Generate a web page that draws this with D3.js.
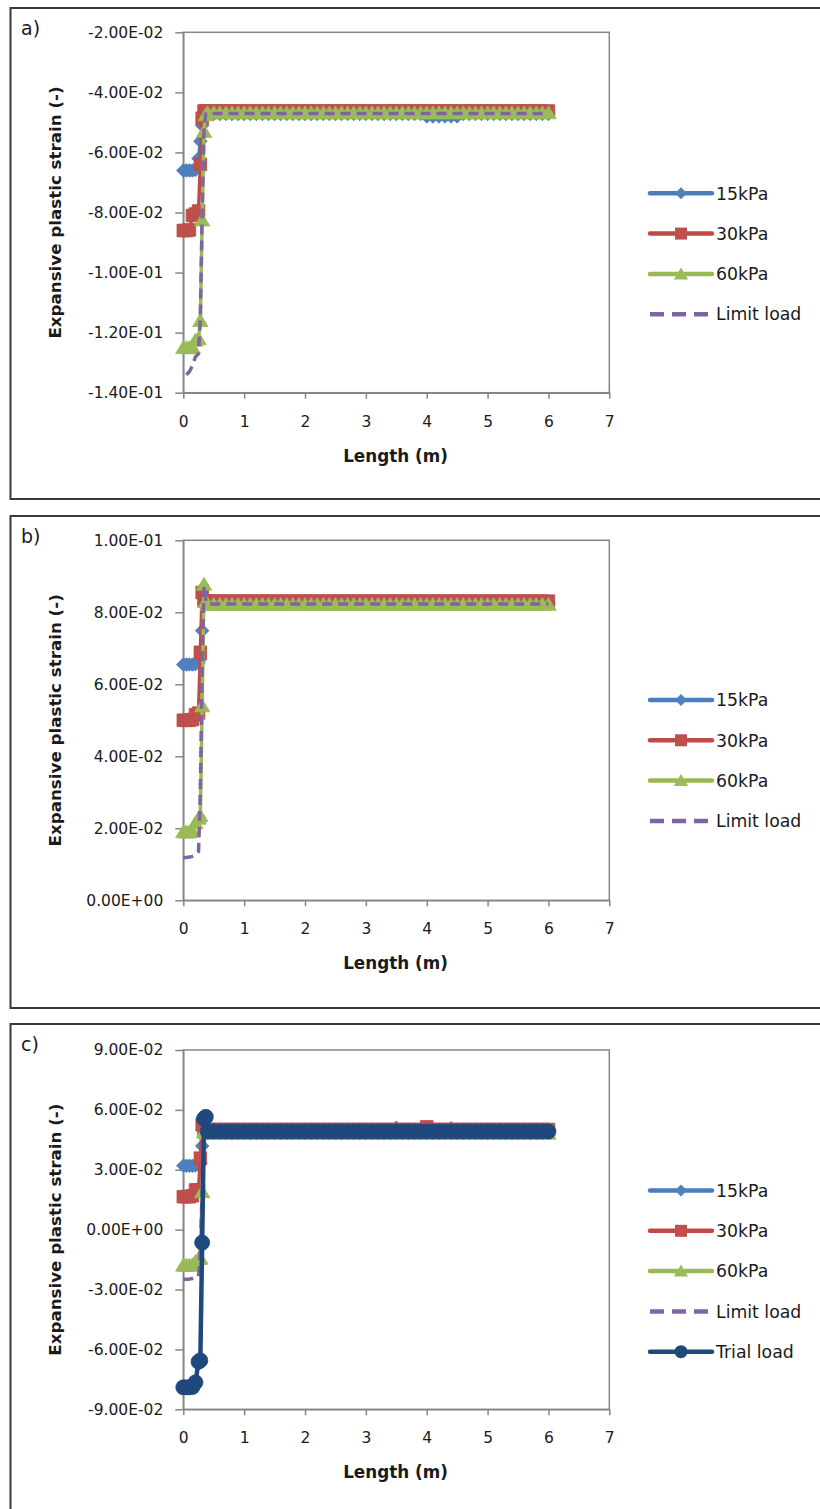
<!DOCTYPE html>
<html><head><meta charset="utf-8">
<script src="https://cdn.jsdelivr.net/npm/d3@7"></script>
<style>
body{margin:0;background:#fff}
svg{display:block}
text{font-family:"DejaVu Sans",sans-serif;fill:#1a1a1a}
</style>
</head><body>
<svg id="chart" width="820" height="1509"></svg>
<script>
// ---------- DATA ----------
const lengths = [0, 0.05, 0.1, 0.15, 0.2, 0.25, 0.28, 0.31, 0.34, 0.37, 0.4,
  0.5, 0.6, 0.7, 0.8, 0.9, 1.0, 1.1, 1.2, 1.3, 1.4, 1.5, 1.6, 1.7, 1.8,
  1.9, 2.0, 2.1, 2.2, 2.3, 2.4, 2.5, 2.6, 2.7, 2.8, 2.9, 3.0, 3.1, 3.2,
  3.3, 3.4, 3.5, 3.6, 3.7, 3.8, 3.9, 4.0, 4.1, 4.2, 4.3, 4.4, 4.5, 4.6,
  4.7, 4.8, 4.9, 5.0, 5.1, 5.2, 5.3, 5.4, 5.5, 5.6, 5.7, 5.8, 5.9, 6.0];

const seriesNames = ["15kPa", "30kPa", "60kPa", "Limit load", "Trial load"];
const panelLetters = ["a)", "b)", "c)"];
const xTicks = [0, 1, 2, 3, 4, 5, 6, 7];
const xTickLabels = ["0", "1", "2", "3", "4", "5", "6", "7"];
const xTitle = "Length (m)";
const yTitle = "Expansive plastic strain (-)";

// panel a
const yTicksA = [-0.14, -0.12, -0.10, -0.08, -0.06, -0.04, -0.02];
const yLabelsA = ["-1.40E-01", "-1.20E-01", "-1.00E-01", "-8.00E-02", "-6.00E-02", "-4.00E-02", "-2.00E-02"];
const a15 = [-0.066, -0.066, -0.066, -0.066, -0.0658, -0.062, -0.0563, -0.051, -0.0472, -0.0472, -0.0472,
  -0.0472, -0.0472, -0.0472, -0.0472, -0.0472, -0.0472, -0.0472, -0.0472, -0.0472, -0.0472, -0.0472, -0.0472, -0.0472, -0.0472,
  -0.0472, -0.0472, -0.0472, -0.0472, -0.0472, -0.0472, -0.0472, -0.0472, -0.0472, -0.0472, -0.0472, -0.0472, -0.0472, -0.0472,
  -0.0472, -0.0472, -0.0472, -0.0472, -0.0472, -0.0472, -0.0472, -0.048, -0.048, -0.048, -0.048, -0.048, -0.048, -0.0472,
  -0.0472, -0.0472, -0.0472, -0.0472, -0.0472, -0.0472, -0.0472, -0.0472, -0.0472, -0.0472, -0.0472, -0.0472, -0.0472, -0.0472];
const a30 = [-0.086, -0.086, -0.0858, -0.081, -0.0805, -0.0795, -0.064, -0.0486, -0.0462, -0.0462, -0.0462,
  -0.0462, -0.0462, -0.0462, -0.0462, -0.0462, -0.0462, -0.0462, -0.0462, -0.0462, -0.0462, -0.0462, -0.0462, -0.0462, -0.0462,
  -0.0462, -0.0462, -0.0462, -0.0462, -0.0462, -0.0462, -0.0462, -0.0462, -0.0462, -0.0462, -0.0462, -0.0462, -0.0462, -0.0462,
  -0.0462, -0.0462, -0.0462, -0.0462, -0.0462, -0.0462, -0.0462, -0.0462, -0.0462, -0.0462, -0.0462, -0.0462, -0.0462, -0.0462,
  -0.0462, -0.0462, -0.0462, -0.0462, -0.0462, -0.0462, -0.0462, -0.0462, -0.0462, -0.0462, -0.0462, -0.0462, -0.0462, -0.0462];
const a60 = [-0.125, -0.125, -0.125, -0.1248, -0.1225, -0.122, -0.116, -0.0825, -0.053, -0.0475, -0.0468,
  -0.0468, -0.0468, -0.0468, -0.0468, -0.0468, -0.0468, -0.0468, -0.0468, -0.0468, -0.0468, -0.0468, -0.0468, -0.0468, -0.0468,
  -0.0468, -0.0468, -0.0468, -0.0468, -0.0468, -0.0468, -0.0468, -0.0468, -0.0468, -0.0468, -0.0468, -0.0468, -0.0468, -0.0468,
  -0.0468, -0.0468, -0.0468, -0.0468, -0.0468, -0.0468, -0.0468, -0.0468, -0.0468, -0.0468, -0.0468, -0.0468, -0.0468, -0.0468,
  -0.0468, -0.0468, -0.0468, -0.0468, -0.0468, -0.0468, -0.0468, -0.0468, -0.0468, -0.0468, -0.0468, -0.0468, -0.0468, -0.0468];
const aLim = [null, -0.134, -0.133, -0.131, -0.128, -0.127, -0.115, -0.08, -0.052, -0.047, -0.047,
  -0.047, -0.047, -0.047, -0.047, -0.047, -0.047, -0.047, -0.047, -0.047, -0.047, -0.047, -0.047, -0.047, -0.047,
  -0.047, -0.047, -0.047, -0.047, -0.047, -0.047, -0.047, -0.047, -0.047, -0.047, -0.047, -0.047, -0.047, -0.047,
  -0.047, -0.047, -0.047, -0.047, -0.047, -0.047, -0.047, -0.047, -0.047, -0.047, -0.047, -0.047, -0.047, -0.047,
  -0.047, -0.047, -0.047, -0.047, -0.047, -0.047, -0.047, -0.047, -0.047, -0.047, -0.047, -0.047, -0.047, -0.047];

// panel b
const yTicksB = [0, 0.02, 0.04, 0.06, 0.08, 0.10];
const yLabelsB = ["0.00E+00", "2.00E-02", "4.00E-02", "6.00E-02", "8.00E-02", "1.00E-01"];
const b15 = [0.0655, 0.0655, 0.0655, 0.0655, 0.0656, 0.066, 0.067, 0.0749, 0.0826, 0.0826, 0.0826,
  0.0826, 0.0826, 0.0826, 0.0826, 0.0826, 0.0826, 0.0826, 0.0826, 0.0826, 0.0826, 0.0826, 0.0826, 0.0826, 0.0826,
  0.0826, 0.0826, 0.0826, 0.0826, 0.0826, 0.0826, 0.0826, 0.0826, 0.0826, 0.0826, 0.0826, 0.0826, 0.0826, 0.0826,
  0.0826, 0.0826, 0.0826, 0.0826, 0.0826, 0.0826, 0.0826, 0.0826, 0.0826, 0.0826, 0.0826, 0.0826, 0.0826, 0.0826,
  0.0826, 0.0826, 0.0826, 0.0826, 0.0826, 0.0826, 0.0826, 0.0826, 0.0826, 0.0826, 0.0826, 0.0826, 0.0826, 0.0826];
const b30 = [0.050, 0.050, 0.050, 0.0502, 0.0515, 0.052, 0.0689, 0.0855, 0.0832, 0.0831, 0.0831,
  0.0831, 0.0831, 0.0831, 0.0831, 0.0831, 0.0831, 0.0831, 0.0831, 0.0831, 0.0831, 0.0831, 0.0831, 0.0831, 0.0831,
  0.0831, 0.0831, 0.0831, 0.0831, 0.0831, 0.0831, 0.0831, 0.0831, 0.0831, 0.0831, 0.0831, 0.0831, 0.0831, 0.0831,
  0.0831, 0.0831, 0.0831, 0.0831, 0.0831, 0.0831, 0.0831, 0.0831, 0.0831, 0.0831, 0.0831, 0.0831, 0.0831, 0.0831,
  0.0831, 0.0831, 0.0831, 0.0831, 0.0831, 0.0831, 0.0831, 0.0831, 0.0831, 0.0831, 0.0831, 0.0831, 0.0831, 0.0831];
const b60 = [0.019, 0.019, 0.019, 0.0192, 0.0215, 0.0228, 0.0235, 0.054, 0.0878, 0.083, 0.0822,
  0.0822, 0.0822, 0.0822, 0.0822, 0.0822, 0.0822, 0.0822, 0.0822, 0.0822, 0.0822, 0.0822, 0.0822, 0.0822, 0.0822,
  0.0822, 0.0822, 0.0822, 0.0822, 0.0822, 0.0822, 0.0822, 0.0822, 0.0822, 0.0822, 0.0822, 0.0822, 0.0822, 0.0822,
  0.0822, 0.0822, 0.0822, 0.0822, 0.0822, 0.0822, 0.0822, 0.0822, 0.0822, 0.0822, 0.0822, 0.0822, 0.0822, 0.0822,
  0.0822, 0.0822, 0.0822, 0.0822, 0.0822, 0.0822, 0.0822, 0.0822, 0.0822, 0.0822, 0.0822, 0.0822, 0.0822, 0.0822];
const bLim = [0.0119, 0.0119, 0.012, 0.0122, 0.0125, 0.0135, 0.03, 0.065, 0.0873, 0.0835, 0.0823,
  0.0823, 0.0823, 0.0823, 0.0823, 0.0823, 0.0823, 0.0823, 0.0823, 0.0823, 0.0823, 0.0823, 0.0823, 0.0823, 0.0823,
  0.0823, 0.0823, 0.0823, 0.0823, 0.0823, 0.0823, 0.0823, 0.0823, 0.0823, 0.0823, 0.0823, 0.0823, 0.0823, 0.0823,
  0.0823, 0.0823, 0.0823, 0.0823, 0.0823, 0.0823, 0.0823, 0.0823, 0.0823, 0.0823, 0.0823, 0.0823, 0.0823, 0.0823,
  0.0823, 0.0823, 0.0823, 0.0823, 0.0823, 0.0823, 0.0823, 0.0823, 0.0823, 0.0823, 0.0823, 0.0823, 0.0823, 0.0823];

// panel c
const yTicksC = [-0.09, -0.06, -0.03, 0, 0.03, 0.06, 0.09];
const yLabelsC = ["-9.00E-02", "-6.00E-02", "-3.00E-02", "0.00E+00", "3.00E-02", "6.00E-02", "9.00E-02"];
const c15 = [0.032, 0.032, 0.032, 0.032, 0.0322, 0.0325, 0.033, 0.0419, 0.05, 0.0498, 0.0497,
  0.0497, 0.0497, 0.0497, 0.0497, 0.0497, 0.0497, 0.0497, 0.0497, 0.0497, 0.0497, 0.0497, 0.0497, 0.0497, 0.0497,
  0.0497, 0.0497, 0.0497, 0.0497, 0.0497, 0.0497, 0.0497, 0.0497, 0.0497, 0.0497, 0.0497, 0.0497, 0.0497, 0.0497,
  0.0497, 0.0497, 0.051, 0.0497, 0.0497, 0.0497, 0.0497, 0.0497, 0.0497, 0.0497, 0.0497, 0.0508, 0.0497, 0.0497,
  0.0497, 0.0497, 0.0497, 0.0497, 0.0497, 0.0497, 0.0497, 0.0497, 0.0497, 0.0497, 0.0497, 0.0497, 0.0497, 0.0497];
const c30 = [0.0165, 0.0165, 0.0165, 0.017, 0.0199, 0.02, 0.0358, 0.0525, 0.0505, 0.0502, 0.0502,
  0.0502, 0.0502, 0.0502, 0.0502, 0.0502, 0.0502, 0.0502, 0.0502, 0.0502, 0.0502, 0.0502, 0.0502, 0.0502, 0.0502,
  0.0502, 0.0502, 0.0502, 0.0502, 0.0502, 0.0502, 0.0502, 0.0502, 0.0502, 0.0502, 0.0502, 0.0502, 0.0502, 0.0502,
  0.0502, 0.0502, 0.0502, 0.0502, 0.0502, 0.0502, 0.0502, 0.0515, 0.0502, 0.0502, 0.0502, 0.0502, 0.0502, 0.0502,
  0.0502, 0.0502, 0.0502, 0.0502, 0.0502, 0.0502, 0.0502, 0.0502, 0.0502, 0.0502, 0.0502, 0.0502, 0.0502, 0.0502];
const c60 = [-0.0178, -0.0178, -0.0178, -0.0176, -0.016, -0.0145, -0.0143, 0.019, 0.049, 0.0485, 0.0483,
  0.0483, 0.0483, 0.0483, 0.0483, 0.0483, 0.0483, 0.0483, 0.0483, 0.0483, 0.0483, 0.0483, 0.0483, 0.0483, 0.0483,
  0.0483, 0.0483, 0.0483, 0.0483, 0.0483, 0.0483, 0.0483, 0.0483, 0.0483, 0.0483, 0.0483, 0.0483, 0.0483, 0.0483,
  0.0483, 0.0483, 0.0483, 0.0483, 0.0483, 0.0483, 0.0483, 0.0483, 0.0483, 0.0483, 0.0483, 0.0483, 0.0483, 0.0483,
  0.0483, 0.0483, 0.0483, 0.0483, 0.0483, 0.0483, 0.0483, 0.0483, 0.0483, 0.0483, 0.0483, 0.0483, 0.0483, 0.0483];
const cLim = [-0.0248, -0.0248, -0.0248, -0.0245, -0.024, -0.0235, -0.01, 0.02, 0.049, 0.049, 0.049,
  0.049, 0.049, 0.049, 0.049, 0.049, 0.049, 0.049, 0.049, 0.049, 0.049, 0.049, 0.049, 0.049, 0.049,
  0.049, 0.049, 0.049, 0.049, 0.049, 0.049, 0.049, 0.049, 0.049, 0.049, 0.049, 0.049, 0.049, 0.049,
  0.049, 0.049, 0.049, 0.049, 0.049, 0.049, 0.049, 0.049, 0.049, 0.049, 0.049, 0.049, 0.049, 0.049,
  0.049, 0.049, 0.049, 0.049, 0.049, 0.049, 0.049, 0.049, 0.049, 0.049, 0.049, 0.049, 0.049, 0.049];
const cTrial = [-0.079, -0.079, -0.079, -0.0788, -0.0765, -0.0662, -0.0655, -0.0065, 0.0556, 0.0565, 0.0492,
  0.0492, 0.0492, 0.0492, 0.0492, 0.0492, 0.0492, 0.0492, 0.0492, 0.0492, 0.0492, 0.0492, 0.0492, 0.0492, 0.0492,
  0.0492, 0.0492, 0.0492, 0.0492, 0.0492, 0.0492, 0.0492, 0.0492, 0.0492, 0.0492, 0.0492, 0.0492, 0.0492, 0.0492,
  0.0492, 0.0492, 0.0492, 0.0492, 0.0492, 0.0492, 0.0492, 0.0492, 0.0492, 0.0492, 0.0492, 0.0492, 0.0492, 0.0492,
  0.0492, 0.0492, 0.0492, 0.0492, 0.0492, 0.0492, 0.0492, 0.0492, 0.0492, 0.0492, 0.0492, 0.0492, 0.0492, 0.0492];

// ---------- STYLES ----------
const styles = [
  {line: "#4A7EBB", fill: "#4F81BD", marker: "diamond", width: 3.5},
  {line: "#BE4B48", fill: "#C0504D", marker: "square", width: 3.5},
  {line: "#98B954", fill: "#9BBB59", marker: "triangle", width: 3.5},
  {line: "#8064A2", fill: "none", marker: null, width: 3.5, dash: "10,6", legendDash: "14,8"},
  {line: "#1F497D", fill: "#1F497D", marker: "circle", width: 4.5}
];

const panels = [
  {frameTop: 8, frameH: 491, top: 32.3, bottom: 392.7, dom: [-0.14, -0.02], ticks: yTicksA, labels: yLabelsA,
   series: [a15, a30, a60, aLim], legendY: 193.3},
  {frameTop: 516, frameH: 492, top: 540.3, bottom: 900.3, dom: [0, 0.10], ticks: yTicksB, labels: yLabelsB,
   series: [b15, b30, b60, bLim], legendY: 700},
  {frameTop: 1024, frameH: 600, top: 1050, bottom: 1409.3, dom: [-0.09, 0.09], ticks: yTicksC, labels: yLabelsC,
   series: [c15, c30, c60, cLim, cTrial], legendY: 1190.5}
];

const svg = d3.select("#chart");
const X0 = 183.3, X1 = 609.3;
const x = d3.scaleLinear().domain([0, 7]).range([X0, X1]);

function markerPath(type, s) {
  if (type === "diamond") return `M0,${-s}L${s},0L0,${s}L${-s},0Z`;
  if (type === "square") return `M${-s},${-s}H${s}V${s}H${-s}Z`;
  if (type === "triangle") return `M0,${-s}L${s * 1.1},${s * 0.85}L${-s * 1.1},${s * 0.85}Z`;
  if (type === "circle") return d3.symbol(d3.symbolCircle, Math.PI * s * s)();
  return null;
}
const markerSize = {diamond: 6.8, square: 6.3, triangle: 7, circle: 7.5};
const legendSize = {diamond: 6, square: 6, triangle: 6.5, circle: 6.5};

panels.forEach((p, pi) => {
  // frame
  svg.append("rect").attr("x", 10.5).attr("y", p.frameTop).attr("width", 830).attr("height", p.frameH)
    .attr("fill", "none").attr("stroke", "#3a3a3a").attr("stroke-width", 2);
  svg.append("text").attr("x", 21).attr("y", p.frameTop + 27).attr("font-size", 19).text(panelLetters[pi]);

  const y = d3.scaleLinear().domain(p.dom).range([p.bottom, p.top]);

  // plot area border
  svg.append("rect").attr("x", X0).attr("y", p.top).attr("width", X1 - X0).attr("height", p.bottom - p.top)
    .attr("fill", "none").attr("stroke", "#868686").attr("stroke-width", 1.5);

  // axes
  const yAxis = d3.axisLeft(y).tickValues(p.ticks).tickFormat((d, i) => p.labels[i]).tickSize(8).tickPadding(12).tickSizeOuter(0);
  const gy = svg.append("g").attr("transform", `translate(${X0},0)`).call(yAxis);
  const xAxis = d3.axisBottom(x).tickValues(xTicks).tickFormat((d, i) => xTickLabels[i]).tickSize(6).tickPadding(17).tickSizeOuter(0);
  const gx = svg.append("g").attr("transform", `translate(0,${p.bottom})`).call(xAxis);
  [gy, gx].forEach(g => {
    g.select(".domain").attr("stroke", "#868686").attr("stroke-width", 1.5);
    g.selectAll(".tick line").attr("stroke", "#868686").attr("stroke-width", 1.5);
    g.selectAll(".tick text").attr("font-family", "DejaVu Sans").attr("font-size", 15.5).attr("fill", "#1a1a1a");
  });

  // titles
  svg.append("text").attr("x", 395.5).attr("y", p.bottom + 69).attr("text-anchor", "middle")
    .attr("font-size", 16.8).attr("font-weight", "bold").text(xTitle);
  svg.append("text").attr("transform", `translate(61,${(p.top + p.bottom) / 2}) rotate(-90)`)
    .attr("text-anchor", "middle").attr("font-size", 16.7).attr("font-weight", "bold").text(yTitle);

  // series
  p.series.forEach((vals, si) => {
    const st = styles[si];
    const pts = lengths.map((l, i) => [l, vals[i]]);
    const line = d3.line().defined(d => d[1] != null).x(d => x(d[0])).y(d => y(d[1]));
    svg.append("path").attr("d", line(pts)).attr("fill", "none").attr("stroke", st.line)
      .attr("stroke-width", st.width).attr("stroke-linejoin", "round").attr("stroke-linecap", st.dash ? "butt" : "round")
      .attr("stroke-dasharray", st.dash || null);
    if (st.marker) {
      svg.append("g").selectAll("path").data(pts.filter(d => d[1] != null)).join("path")
        .attr("d", markerPath(st.marker, markerSize[st.marker]))
        .attr("transform", d => `translate(${x(d[0])},${y(d[1])})`)
        .attr("fill", st.fill).attr("stroke", st.line).attr("stroke-width", 0.8);
    }
  });

  // legend
  p.series.forEach((vals, si) => {
    const st = styles[si];
    const ly = p.legendY + si * 40.3;
    svg.append("line").attr("x1", 650).attr("x2", 712).attr("y1", ly).attr("y2", ly)
      .attr("stroke", st.line).attr("stroke-width", 4.5).attr("stroke-linecap", st.dash ? "butt" : "round")
      .attr("stroke-dasharray", st.legendDash || null);
    if (st.marker) {
      svg.append("path").attr("d", markerPath(st.marker, legendSize[st.marker]))
        .attr("transform", `translate(681,${ly})`).attr("fill", st.fill);
    }
    svg.append("text").attr("x", 716).attr("y", ly).attr("dy", "0.36em").attr("font-size", 17.3).text(seriesNames[si]);
  });
});
</script>
</body></html>
